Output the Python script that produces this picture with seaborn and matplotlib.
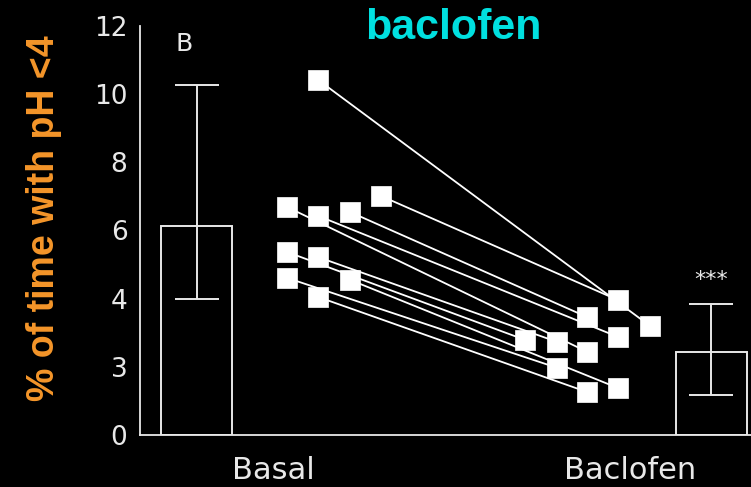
import numpy as np
import pandas as pd
import matplotlib
matplotlib.use("Agg")
import matplotlib.pyplot as plt
import seaborn as sns

# ---- data ----
groups = ["Basal", "Baclofen"]
bar_means = [6.13, 2.44]
bar_err_low = [3.99, 1.17]
bar_err_high = [10.27, 3.84]

basal_vals = [10.42, 7.01, 6.54, 6.43, 6.69, 5.37, 5.22, 4.55, 4.61, 4.05]
baclofen_vals = [3.20, 3.96, 3.46, 2.88, 2.44, 2.79, 2.73, 1.38, 1.97, 1.26]
# horizontal jitter of individual subjects (category units)
basal_jitter = [0.126, 0.303, 0.216, 0.126, 0.039, 0.039, 0.126, 0.216, 0.039, 0.126]
baclofen_jitter = [0.056, -0.034, -0.120, -0.034, -0.120, -0.294, -0.204, -0.034, -0.204, -0.120]
bar_pos = [-0.214, 1.228]

ytick_pos = [0, 2, 4, 6, 8, 10, 12]
ytick_labels = ["0", "3", "4", "6", "8", "10", "12"]

# ---- figure ----
sns.set_style("white")
plt.rcParams["font.family"] = ["DejaVu Sans"]
fig = plt.figure(figsize=(7.51, 4.87), dpi=100, facecolor="black")
ax = fig.add_axes([140/751, 1-435/487, 611/751, 409/487])
ax.set_facecolor("black")

# bars
bars_df = pd.DataFrame({"x": bar_pos, "y": bar_means})
sns.barplot(data=bars_df, x="x", y="y", native_scale=True, width=0.2/1.442,
            color="black", edgecolor="#e8e8e8", linewidth=1.4, ax=ax, errorbar=None)
for p in ax.patches:
    p.set_facecolor("black")
means = np.array(bar_means)
yerr = np.vstack([means - np.array(bar_err_low), np.array(bar_err_high) - means])
ax.errorbar(bar_pos, bar_means, yerr=yerr, fmt="none", ecolor="#e8e8e8",
            elinewidth=1.4, capsize=16, capthick=1.4, zorder=3)

# paired lines
n = len(basal_vals)
rows = []
for i in range(n):
    rows.append({"subj": i, "x": 0 + basal_jitter[i], "y": basal_vals[i]})
    rows.append({"subj": i, "x": 1 + baclofen_jitter[i], "y": baclofen_vals[i]})
pts = pd.DataFrame(rows)
sns.lineplot(data=pts, x="x", y="y", units="subj", estimator=None, color="white",
             linewidth=1.3, ax=ax, zorder=4, sort=False)
sns.scatterplot(data=pts, x="x", y="y", marker="s", s=15**2, color="white",
                edgecolor="white", linewidth=0.5, ax=ax, zorder=5)

ax.set_xlim(-0.373, 1.339)
ax.set_ylim(0, 12)
ax.set_yticks(ytick_pos)
ax.set_yticklabels(ytick_labels)
ax.set_xticks([0, 1])
ax.set_xticklabels(groups)
ax.tick_params(axis="y", direction="in", length=11, width=1.3, colors="#e8e8e8",
               labelsize=19, pad=9)
ax.tick_params(axis="x", length=0, colors="#e8e8e8", labelsize=22, pad=15)
for s in ["top", "right"]:
    ax.spines[s].set_visible(False)
for s in ["left", "bottom"]:
    ax.spines[s].set_color("#e8e8e8")
    ax.spines[s].set_linewidth(1.3)

ax.set_xlabel("")
ax.set_ylabel("% of time with pH <4", color="#f5962a", fontsize=27,
              fontweight="bold", fontstretch="normal",
              family=["Liberation Sans", "DejaVu Sans"])
ax.yaxis.set_label_coords(-0.128, 0.53)

fig.text(453/751, 1-28/487, "baclofen", color="#00e0e0", fontsize=31,
         fontstretch="normal", fontweight="semibold",
         ha="center", va="center", family=["Liberation Sans", "DejaVu Sans"])
ax.text(0.072, 0.955, "B", transform=ax.transAxes, color="#e8e8e8", fontsize=18,
        ha="center", va="center")
ax.text(bar_pos[1], 4.55, "***", color="#e8e8e8", fontsize=16, ha="center", va="center")

fig.savefig("out.png", dpi=100, facecolor="black")
